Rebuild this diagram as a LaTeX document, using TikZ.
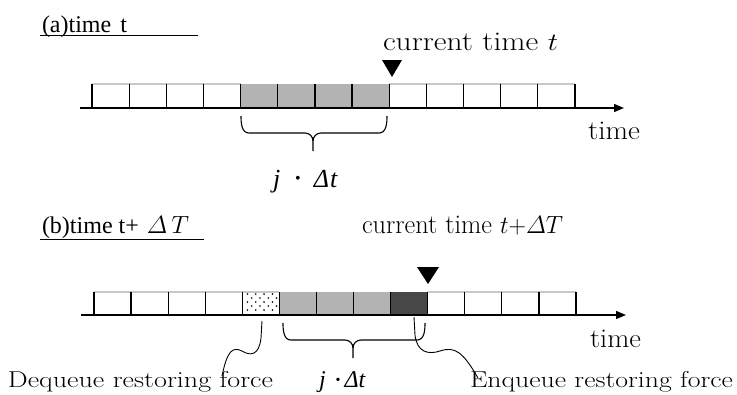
\documentclass[tikz,border=0pt]{standalone}
\usepackage{fontspec}
\usepackage{graphicx}
\usetikzlibrary{arrows.meta}
\newfontfamily\timesf{Liberation Serif}
\newcommand{\fitw}[2]{\resizebox{#1}{\height}{#2}}
\newcommand{\itDelta}{\mathchar"0101}
\definecolor{cellgray}{HTML}{B3B3B3}
\definecolor{celldark}{HTML}{474747}
\definecolor{toplight}{HTML}{C8C8C8}
\tikzset{
  topline/.style={draw=toplight, line width=1.5pt},
  vline/.style={draw=black, line width=1.2pt},
  axisline/.style={draw=black, line width=1.3pt, -{Triangle[length=10pt,width=8pt]}},
  lbl/.style={anchor=base west, inner sep=0pt, outer sep=0pt},
  bracepath/.style={draw=black, line width=1.1pt},
  wave/.style={draw=black, line width=0.9pt},
  marker/.style={fill=black}
}
\begin{document}
\begin{tikzpicture}[x=1pt,y=-1pt]
\useasboundingbox (0,0) rectangle (737,394);

% ---------------- (a) ----------------
\node[lbl] (titleA) at (42,32) {\timesf\fontsize{24}{24}\selectfont (a)time\hspace{9pt}t};
\coordinate (ulA1) at (40,35.5);
\coordinate (ulA2) at (198,35.5);
\draw[line width=1.5pt] (ulA1) -- (ulA2);

\foreach \i in {4,...,7}
  \fill[cellgray] ({92+\i*37.15},84) rectangle ({92+(\i+1)*37.15},108);
\draw[topline] (92,84) -- (240.6,84);
\draw[topline] (389.2,84) -- (575,84);
\foreach \i in {0,...,13}
  \draw[vline] ({92+\i*37.15},84) -- ({92+\i*37.15},108);
\coordinate (axA0) at (80,108);
\coordinate (axA1) at (624,108);
\draw[axisline] (axA0) -- (axA1);

\fill[marker] (382,60) -- (402,60) -- (392,77) -- cycle;
\node[lbl] (curA) at (383,50) {\fontsize{27}{27}\selectfont\fitw{175pt}{current time $t$}};

\node[lbl] (timeA) at (588,139) {\fontsize{27}{27}\selectfont\fitw{52pt}{time}};

\draw[bracepath] (241,116) to[out=-90,in=180] (249,133) -- (305,133)
   to[out=0,in=90] (313,141) -- (313,151);
\draw[bracepath] (387,116) to[out=-90,in=0] (379,133) -- (321,133)
   to[out=180,in=90] (313,141);
\node[lbl] (jdtA) at (273,187) {\timesf\fontsize{26}{26}\selectfont\itshape j\hspace{15pt}\raisebox{3.5pt}{\fontsize{16}{16}\selectfont\upshape •}\hspace{13pt}Δ\hspace{1pt}t};

% ---------------- (b) ----------------
\node[lbl] (titleB) at (42,233) {\fontsize{24}{24}\selectfont{\timesf (b)time t+}\hspace{8pt}$\itDelta\,T$};
\coordinate (ulB1) at (40,239.5);
\coordinate (ulB2) at (204,239.5);
\draw[line width=1.5pt] (ulB1) -- (ulB2);

\foreach \i in {5,...,7}
  \fill[cellgray] ({94+\i*37.08},292) rectangle ({94+(\i+1)*37.08},315);
\fill[celldark] ({94+8*37.08},292) rectangle ({94+9*37.08},315);
\draw[topline] (94,292) -- ({94+5*37.08},292);
\draw[topline] ({94+9*37.08},292) -- (576,292);
% dots of the dotted cell
\foreach \yy/\off in {294/0, 298/4.2, 302/0, 306/4.2, 310/0}
  \foreach \k in {0,...,3}
    \fill ({247.5+\off+\k*8.3},\yy) circle (0.9);
\foreach \i in {0,...,13}
  \draw[vline] ({94+\i*37.08},292) -- ({94+\i*37.08},315);
\coordinate (axB0) at (81,315);
\coordinate (axB1) at (626,315);
\draw[axisline] (axB0) -- (axB1);

\fill[marker] (417,267) -- (439,267) -- (428,284) -- cycle;
\node[lbl] (curB) at (362,233) {\fontsize{27}{27}\selectfont\fitw{201pt}{current time $t{+}\itDelta T$}};

\node[lbl] (timeB) at (590,347) {\fontsize{27}{27}\selectfont\fitw{51pt}{time}};

\draw[bracepath] (283,323) to[out=-90,in=180] (291,340) -- (345,340)
   to[out=0,in=90] (353,348) -- (353,358);
\draw[bracepath] (425,323) to[out=-90,in=0] (417,340) -- (361,340)
   to[out=180,in=90] (353,348);
\node[lbl] (jdtB) at (319,387) {\timesf\fontsize{24}{24}\selectfont\itshape j\hspace{10pt}\raisebox{3pt}{\fontsize{14}{14}\selectfont\upshape •}\hspace{4pt}Δt};

\node[lbl] (deq) at (8,387) {\fontsize{23}{23}\selectfont\fitw{265pt}{Dequeue restoring force}};
\node[lbl] (enq) at (470,387) {\fontsize{23}{23}\selectfont\fitw{263pt}{Enqueue restoring force}};

\coordinate (deqS) at (262,321);
\coordinate (deqE) at (222,376);
\draw[wave] (deqS) -- (261,338) .. controls (259,356) and (250,356) .. (242,351)
   .. controls (232,346) and (227,352) .. (deqE);
\coordinate (enqS) at (414,317);
\coordinate (enqE) at (478,378);
\draw[wave] (enqS) -- (415,335) .. controls (417,352) and (428,355) .. (440,351)
   .. controls (455,346) and (463,352) .. (enqE);
\end{tikzpicture}
\end{document}
